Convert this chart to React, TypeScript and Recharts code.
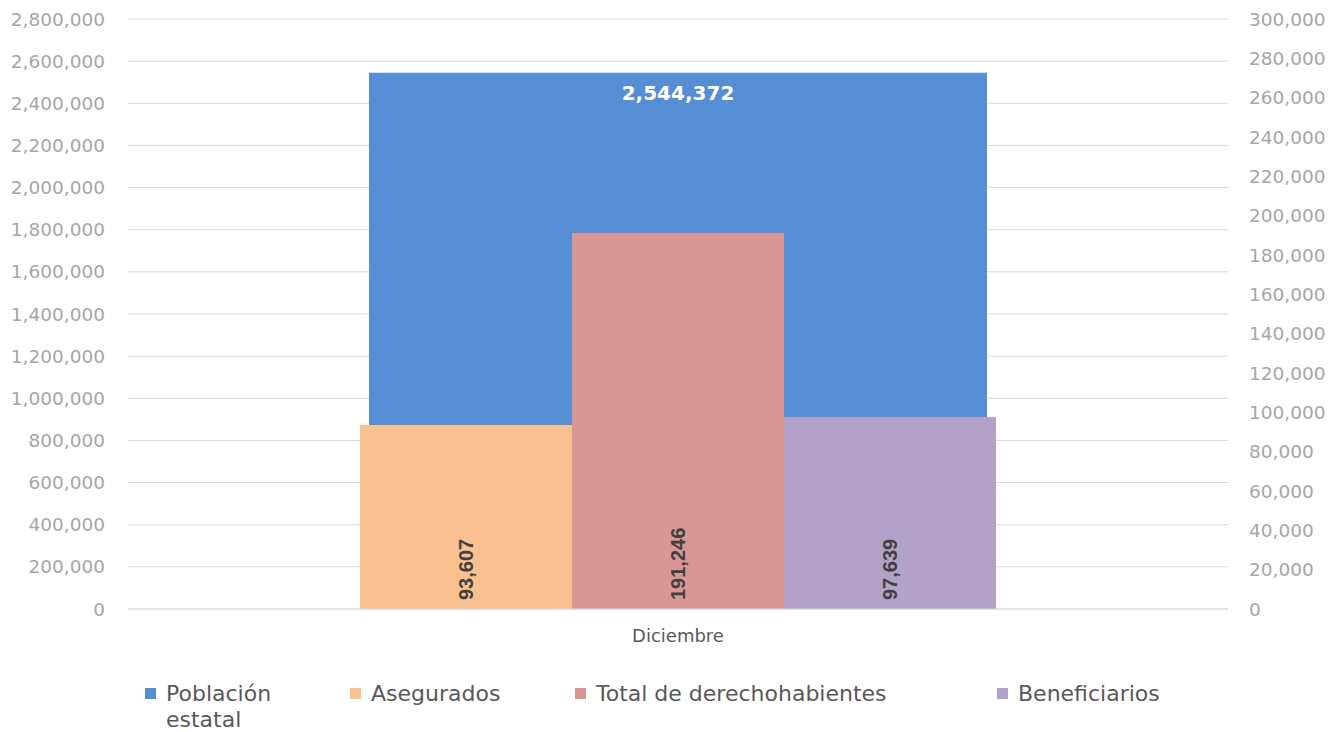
import React from "react";
import { BarChart, Bar, XAxis, YAxis, CartesianGrid, Legend, LabelList } from "recharts";

const categories = ["Diciembre"];
const poblacionEstatal = [2544372];
const asegurados = [93607];
const totalDerechohabientes = [191246];
const beneficiarios = [97639];

const leftTicks = [0, 200000, 400000, 600000, 800000, 1000000, 1200000, 1400000, 1600000, 1800000, 2000000, 2200000, 2400000, 2600000, 2800000];
const rightTicks = [0, 20000, 40000, 60000, 80000, 100000, 120000, 140000, 160000, 180000, 200000, 220000, 240000, 260000, 280000, 300000];

const seriesKeys = ["poblacion", "asegurados", "total", "beneficiarios"];
const seriesNames = ["Población estatal", "Asegurados", "Total de derechohabientes", "Beneficiarios"];
const seriesColors = ["#558ED5", "#FAC090", "#D99694", "#B3A2C7"];

const data = categories.map((c, i) => ({
  mes: c,
  poblacion: poblacionEstatal[i],
  asegurados: asegurados[i],
  total: totalDerechohabientes[i],
  beneficiarios: beneficiarios[i],
}));

const fmt = (v: any) => Number(v).toLocaleString("en-US");

const FONT = "'DejaVu Sans', sans-serif";
const legendLeft = [145, 350, 575, 997];
const legendTextWidth = [130, 200, 400, 300];

const RotLabel = (props: any) => {
  const { x, y, width, height, value } = props;
  const cx = Number(x) + Number(width) / 2 + 7;
  const by = Number(y) + Number(height) - 9;
  return (
    <text
      x={cx}
      y={by}
      transform={`rotate(-90 ${cx} ${by})`}
      textAnchor="start"
      fill="#404040"
      fontWeight="bold"
      fontSize={20}
      fontFamily="'Liberation Sans', Arial, sans-serif"
    >
      {fmt(value)}
    </text>
  );
};

const renderLegend = () => (
  <div style={{ position: "relative", width: 1339, height: 62, fontFamily: FONT, fontSize: 22, color: "#595959" }}>
    {seriesNames.map((n, i) => (
      <div key={n} style={{ position: "absolute", left: legendLeft[i], top: 0 }}>
        <div style={{ position: "absolute", left: 0, top: 18, width: 11, height: 11, background: seriesColors[i] }} />
        <div style={{ position: "absolute", left: 21, top: 11, width: legendTextWidth[i], lineHeight: "26px", whiteSpace: "normal" }}>{n}</div>
      </div>
    ))}
  </div>
);

export default function App() {
  return (
    <div>
      <style>{"body{margin:0}"}</style>
      <BarChart width={1339} height={732} data={data} margin={{ top: 19, right: 0, left: 0, bottom: 0 }} barGap={0}>
        <CartesianGrid vertical={false} stroke="#d9d9d9" yAxisId="left" xAxisId="der" />
        <XAxis xAxisId="pop" dataKey="mes" hide />
        <XAxis
          xAxisId="der"
          dataKey="mes"
          height={61}
          tickLine={false}
          tickSize={0}
          tickMargin={20}
          axisLine={{ stroke: "#d9d9d9" }}
          tick={{ fill: "#595959", fontSize: 18, fontFamily: FONT }}
        />
        <YAxis
          yAxisId="left"
          domain={[0, 2800000]}
          ticks={leftTicks}
          interval={0}
          width={128}
          axisLine={false}
          tickLine={false}
          tickSize={0}
          tickMargin={23}
          tickFormatter={fmt}
          tick={{ fill: "#a6a6a6", fontSize: 18.5, fontFamily: FONT }}
        />
        <YAxis
          yAxisId="right"
          orientation="right"
          domain={[0, 300000]}
          ticks={rightTicks}
          interval={0}
          width={111}
          axisLine={false}
          tickLine={false}
          tickSize={0}
          tickMargin={21}
          tickFormatter={fmt}
          tick={{ fill: "#a6a6a6", fontSize: 18.5, fontFamily: FONT }}
        />
        <Legend verticalAlign="bottom" content={renderLegend} wrapperStyle={{ left: 0, width: 1339 }} />
        <Bar
          dataKey={seriesKeys[0]}
          name={seriesNames[0]}
          xAxisId="pop"
          yAxisId="left"
          fill={seriesColors[0]}
          barSize={618}
          isAnimationActive={false}
        >
          <LabelList
            dataKey={seriesKeys[0]}
            position="insideTop"
            offset={13}
            formatter={fmt}
            fill="#ffffff"
            fontWeight="bold"
            fontSize={20}
            fontFamily={FONT}
          />
        </Bar>
        {[1, 2, 3].map((i) => (
          <Bar
            key={seriesKeys[i]}
            dataKey={seriesKeys[i]}
            name={seriesNames[i]}
            xAxisId="der"
            yAxisId="right"
            fill={seriesColors[i]}
            barSize={212}
            isAnimationActive={false}
          >
            <LabelList dataKey={seriesKeys[i]} content={RotLabel} />
          </Bar>
        ))}
      </BarChart>
    </div>
  );
}
